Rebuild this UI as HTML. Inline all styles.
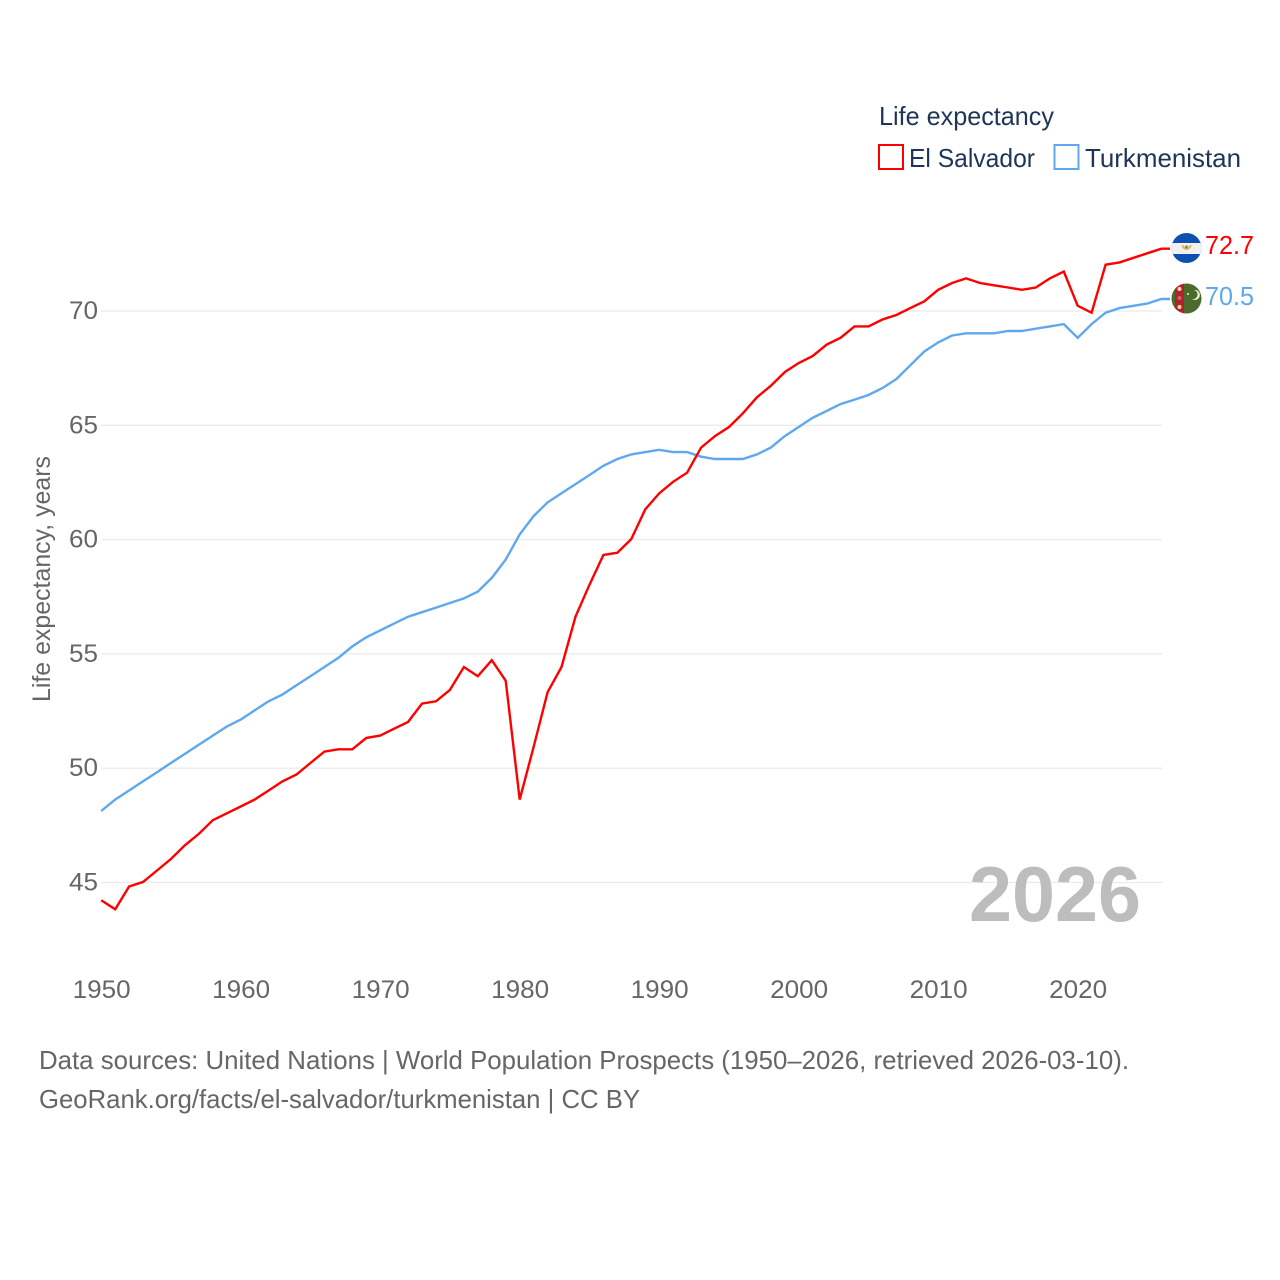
<!DOCTYPE html>
<html lang="en">
<head>
<meta charset="utf-8">
<title>Life expectancy: El Salvador and Turkmenistan</title>
<style>
html,body{margin:0;padding:0;background:#fff;}
svg{display:block;font-family:"Liberation Sans",sans-serif;}
</style>
</head>
<body>
<svg id="chart" width="1280" height="1280" viewBox="0 0 1280 1280" xmlns="http://www.w3.org/2000/svg">
  <defs>
    <clipPath id="clip-sv"><circle cx="1186.5" cy="248" r="15"/></clipPath>
    <clipPath id="clip-tm"><circle cx="1186.5" cy="298.5" r="15"/></clipPath>
  </defs>
  <g id="grid"></g>
  <g id="y-labels"></g>
  <g id="x-labels"></g>
  <g id="series" transform="translate(0,-0.6)"></g>

  <text transform="translate(50,702) rotate(-90)" font-size="25" fill="#666" textLength="246" lengthAdjust="spacingAndGlyphs">Life expectancy, years</text>

  <text x="969" y="921" font-size="78" font-weight="bold" fill="#bdbdbd" textLength="172" lengthAdjust="spacingAndGlyphs">2026</text>

  <g>
    <text x="879" y="125" font-size="26" fill="#1d3557" textLength="175" lengthAdjust="spacingAndGlyphs">Life expectancy</text>
    <g>
      <rect x="879" y="145" width="24" height="24" fill="#fff" stroke="#ff0000" stroke-width="2"/>
      <text x="909" y="167" font-size="26" fill="#1d3557" textLength="126" lengthAdjust="spacingAndGlyphs">El Salvador</text>
    </g>
    <g>
      <rect x="1054.5" y="145" width="24" height="24" fill="#fff" stroke="#5fa8ee" stroke-width="2"/>
      <text x="1085" y="167" font-size="26" fill="#1d3557" textLength="156" lengthAdjust="spacingAndGlyphs">Turkmenistan</text>
    </g>
  </g>

  <g clip-path="url(#clip-sv)">
    <rect x="1171" y="233" width="31" height="30" fill="#0f4fb0"/>
    <rect x="1171" y="243" width="31" height="11" fill="#f1f1f1"/>
    <path d="M1181.5 245 a5 5 0 0 0 10 0 l-1.5 0 l-3.5 4 l-3.5 -4 z" fill="#e8b93c"/>
    <circle cx="1186.5" cy="247" r="1.6" fill="#7a8fb0"/>
  </g>
  <g clip-path="url(#clip-tm)">
    <rect x="1171" y="283" width="31" height="31" fill="#4a6b2c"/>
    <rect x="1175" y="283" width="9" height="31" fill="#b5202e"/>
    <circle cx="1179.5" cy="289" r="2" fill="#f3d9a8"/>
    <circle cx="1179.5" cy="298" r="2" fill="#c46a5a"/>
    <circle cx="1179.5" cy="307" r="2" fill="#f3d9a8"/>
    <path d="M1194 290 a5 5 0 1 1 -2 9 a4 4 0 0 0 2 -9 z" fill="#e8efe0"/>
    <circle cx="1188" cy="294" r="1" fill="#e8efe0"/>
  </g>

  <text x="1205" y="254" font-size="26" fill="#ff0000" textLength="49" lengthAdjust="spacingAndGlyphs">72.7</text>
  <text x="1205" y="305" font-size="26" fill="#5fa8ee" textLength="49" lengthAdjust="spacingAndGlyphs">70.5</text>

  <text x="39" y="1069" font-size="26" fill="#666" textLength="1090" lengthAdjust="spacingAndGlyphs">Data sources: United Nations | World Population Prospects (1950–2026, retrieved 2026-03-10).</text>
  <text x="39" y="1108" font-size="26" fill="#666" textLength="601" lengthAdjust="spacingAndGlyphs">GeoRank.org/facts/el-salvador/turkmenistan | CC BY</text>
</svg>
<script>
const startYear = 1950;
const yTicks = [45, 50, 55, 60, 65, 70];
const xTicks = [1950, 1960, 1970, 1980, 1990, 2000, 2010, 2020];
const elSalvador = [
  44.2, 43.8, 44.8, 45.0, 45.5, 46.0, 46.6, 47.1, 47.7, 48.0,
  48.3, 48.6, 49.0, 49.4, 49.7, 50.2, 50.7, 50.8, 50.8, 51.3,
  51.4, 51.7, 52.0, 52.8, 52.9, 53.4, 54.4, 54.0, 54.7, 53.8,
  48.6, 50.9, 53.3, 54.4, 56.6, 58.0, 59.3, 59.4, 60.0, 61.3,
  62.0, 62.5, 62.9, 64.0, 64.5, 64.9, 65.5, 66.2, 66.7, 67.3,
  67.7, 68.0, 68.5, 68.8, 69.3, 69.3, 69.6, 69.8, 70.1, 70.4,
  70.9, 71.2, 71.4, 71.2, 71.1, 71.0, 70.9, 71.0, 71.4, 71.7,
  70.2, 69.9, 72.0, 72.1, 72.3, 72.5, 72.7
];
const turkmenistan = [
  48.1, 48.6, 49.0, 49.4, 49.8, 50.2, 50.6, 51.0, 51.4, 51.8,
  52.1, 52.5, 52.9, 53.2, 53.6, 54.0, 54.4, 54.8, 55.3, 55.7,
  56.0, 56.3, 56.6, 56.8, 57.0, 57.2, 57.4, 57.7, 58.3, 59.1,
  60.2, 61.0, 61.6, 62.0, 62.4, 62.8, 63.2, 63.5, 63.7, 63.8,
  63.9, 63.8, 63.8, 63.6, 63.5, 63.5, 63.5, 63.7, 64.0, 64.5,
  64.9, 65.3, 65.6, 65.9, 66.1, 66.3, 66.6, 67.0, 67.6, 68.2,
  68.6, 68.9, 69.0, 69.0, 69.0, 69.1, 69.1, 69.2, 69.3, 69.4,
  68.8, 69.4, 69.9, 70.1, 70.2, 70.3, 70.5
];

const NS = 'http://www.w3.org/2000/svg';
function xScale(year) { return 101.2 + (year - 1950) * 13.95; }
function yScale(v) { return 311 + (70 - v) * 22.86; }
function mk(tag, attrs, parent) {
  const el = document.createElementNS(NS, tag);
  for (const k in attrs) el.setAttribute(k, attrs[k]);
  parent.appendChild(el);
  return el;
}

const grid = document.getElementById('grid');
const yLabels = document.getElementById('y-labels');
const xLabels = document.getElementById('x-labels');
const seriesGroup = document.getElementById('series');

yTicks.forEach(function (t) {
  const line = mk('line', { x1: 101, x2: 1162, y1: yScale(t), y2: yScale(t), stroke: '#ebebeb', 'stroke-width': 1.3 }, grid);
  
  
  const label = mk('text', { x: 69, y: yScale(t) + 8, 'font-size': 25, fill: '#666', textLength: 29, lengthAdjust: 'spacingAndGlyphs' }, yLabels);
  
  
  label.textContent = String(t);
});

xTicks.forEach(function (t) {
  const label = mk('text', { x: xScale(t) - 28.5, y: 998, 'font-size': 25, fill: '#666', textLength: 58, lengthAdjust: 'spacingAndGlyphs' }, xLabels);
  
  
  label.textContent = String(t);
});

function drawSeries(values, color) {
  const pts = values.map(function (v, i) { return xScale(startYear + i).toFixed(1) + ',' + yScale(v).toFixed(1); });
  const last = values[values.length - 1];
  pts.push('1170,' + yScale(last).toFixed(1));
  return mk('polyline', { points: pts.join(' '), fill: 'none', stroke: color, 'stroke-width': 2.4, 'stroke-linejoin': 'miter' }, seriesGroup);
}

const turkmenistanLine = drawSeries(turkmenistan, '#5fa8ee');


const elSalvadorLine = drawSeries(elSalvador, '#ff0000');


</script>
</body>
</html>
